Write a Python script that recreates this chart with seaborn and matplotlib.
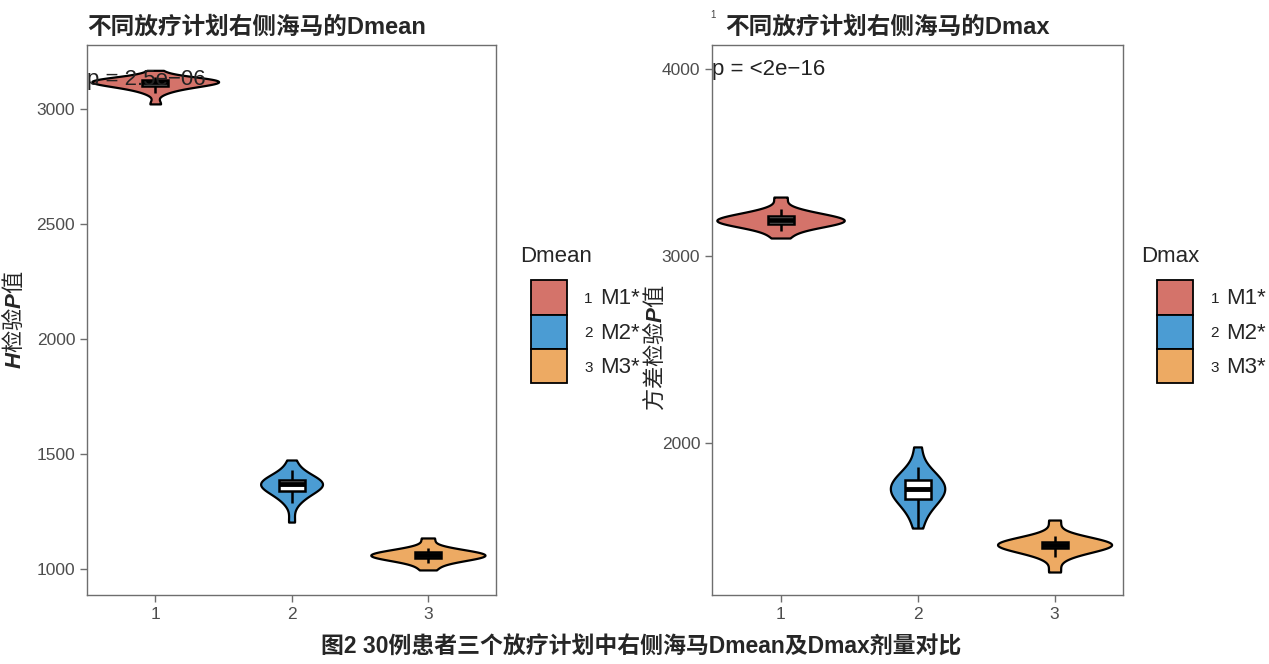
import matplotlib
matplotlib.use("Agg")
import matplotlib.pyplot as plt
import seaborn as sns
import pandas as pd
from matplotlib.patches import Patch

# 三个计划的标签
plans = ["1", "2", "3"]
legend_names = ["M1*", "M2*", "M3*"]
colors = ["#D4736A", "#4B9CD3", "#EDAA63"]

# Dmean (右侧海马) 估计样本
dmean_m1 = [3022, 3070, 3085, 3095, 3100, 3104, 3108, 3111, 3114, 3117,
            3120, 3122, 3124, 3126, 3128, 3130, 3133, 3138, 3168]
dmean_m2 = [1204, 1285, 1310, 1325, 1338, 1348, 1355, 1360, 1365, 1370,
            1374, 1378, 1383, 1390, 1398, 1410, 1430, 1474]
dmean_m3 = [996, 1025, 1038, 1045, 1050, 1054, 1057, 1060, 1063, 1066,
            1070, 1075, 1082, 1092, 1135]

# Dmax 估计样本
dmax_m1 = [3096, 3135, 3155, 3165, 3172, 3178, 3182, 3186, 3190, 3195,
           3200, 3206, 3212, 3220, 3232, 3250, 3315]
dmax_m2 = [1545, 1620, 1660, 1685, 1705, 1720, 1735, 1748, 1760, 1772,
           1785, 1800, 1818, 1840, 1870, 1979]
dmax_m3 = [1310, 1392, 1418, 1432, 1441, 1447, 1452, 1456, 1460, 1464,
           1469, 1475, 1484, 1502, 1588]

p_dmean = "p = 2.5e\u221206"
p_dmax = "p = <2e\u221216"


def make_df(groups):
    rows = []
    for plan, vals in zip(plans, groups):
        for v in vals:
            rows.append({"plan": plan, "value": v})
    return pd.DataFrame(rows)


sns.set_style("ticks")
plt.rcParams["font.family"] = ["Liberation Sans", "Noto Sans CJK SC"]
plt.rcParams["mathtext.fontset"] = "custom"
plt.rcParams["mathtext.bfit"] = "Liberation Sans:bold:italic"
plt.rcParams["mathtext.rm"] = "Noto Sans CJK SC"
plt.rcParams["mathtext.bf"] = "Noto Sans CJK SC:bold"

fig = plt.figure(figsize=(12.69, 6.64), dpi=100)
ax1 = fig.add_axes([0.0686, 0.1039, 0.3223, 0.8283])
ax2 = fig.add_axes([0.5611, 0.1039, 0.3239, 0.8283])

panels = [
    (ax1, make_df([dmean_m1, dmean_m2, dmean_m3]), (887, 3278), [1000, 1500, 2000, 2500, 3000],
     "不同放疗计划右侧海马的Dmean", p_dmean, 3126, 0.0),
    (ax2, make_df([dmax_m1, dmax_m2, dmax_m3]), (1187, 4128), [2000, 3000, 4000],
     "不同放疗计划右侧海马的Dmax", p_dmax, 3995, 0.032),
]

pal = dict(zip(plans, colors))
for ax, df, ylim, yticks, title, ptxt, py, tx in panels:
    sns.violinplot(data=df, x="plan", y="value", hue="plan", palette=pal, order=plans,
                   cut=0, width=0.93, inner=None, linecolor="black", linewidth=1.6,
                   density_norm="area", common_norm=True,
                   legend=False, ax=ax, saturation=1)
    sns.boxplot(data=df, x="plan", y="value", order=plans, width=0.19, color="white",
                linecolor="black", linewidth=1.8, showfliers=False, showcaps=False,
                medianprops={"linewidth": 3.5, "color": "black"}, ax=ax)
    ax.set_ylim(*ylim)
    ax.set_yticks(yticks)
    ax.set_xlabel("")
    ax.set_ylabel("")
    for s in ax.spines.values():
        s.set_color("#6e6e6e")
        s.set_linewidth(1.0)
    ax.tick_params(colors="#6e6e6e", labelcolor="#4d4d4d", labelsize=12.5, length=5, width=1)
    ax.text(tx, 1.012, title, transform=ax.transAxes, fontsize=17, fontweight="bold",
            ha="left", va="bottom")
    ax.text(0.0, py, ptxt, transform=ax.get_yaxis_transform(), fontsize=16,
            color="#222222", va="center", ha="left")

ax1.set_ylabel("$\\mathbfit{H}\\mathbf{检验}\\mathbfit{P}\\mathbf{值}$", fontsize=16)
ax1.yaxis.set_label_coords(-0.15, 0.5)
ax2.set_ylabel("$\\mathrm{方差检验}\\mathbfit{P}\\mathrm{值}$", fontsize=16)
ax2.yaxis.set_label_coords(-0.11, 0.45)

# 图例
handles = [Patch(facecolor=c, edgecolor="black", linewidth=1.3) for c in colors]
legs = []
for x_title, x_keys, t in [(0.4098, 0.4184, "Dmean"), (0.8995, 0.912, "Dmax")]:
    fig.text(x_title, 0.613, t, fontsize=16, ha="left", va="center")
    leg = fig.legend(handles, legend_names, loc="upper left",
                     bbox_to_anchor=(x_keys, 0.578), frameon=False, fontsize=16,
                     handlelength=1.6, handleheight=2.0,
                     labelspacing=0.0, handletextpad=1.5, borderaxespad=0,
                     borderpad=0)
    legs.append(leg)

fig.text(0.505, 0.026, "图2 30例患者三个放疗计划中右侧海马Dmean及Dmax剂量对比",
         ha="center", va="center", fontsize=16.5, fontweight="bold")
fig.text(0.5615, 0.977, "1", fontsize=7, color="#444444", ha="center", va="center")

fig.canvas.draw()
r = fig.canvas.get_renderer()
inv = fig.transFigure.inverted()
for leg in legs:
    for num, txt in zip(plans, leg.get_texts()):
        bb = txt.get_window_extent(r)
        x, y = inv.transform((bb.x0 - 7, (bb.y0 + bb.y1) / 2))
        fig.text(x, y, num, fontsize=11, ha="right", va="center", color="#222222")

fig.savefig("out.png", dpi=100)
